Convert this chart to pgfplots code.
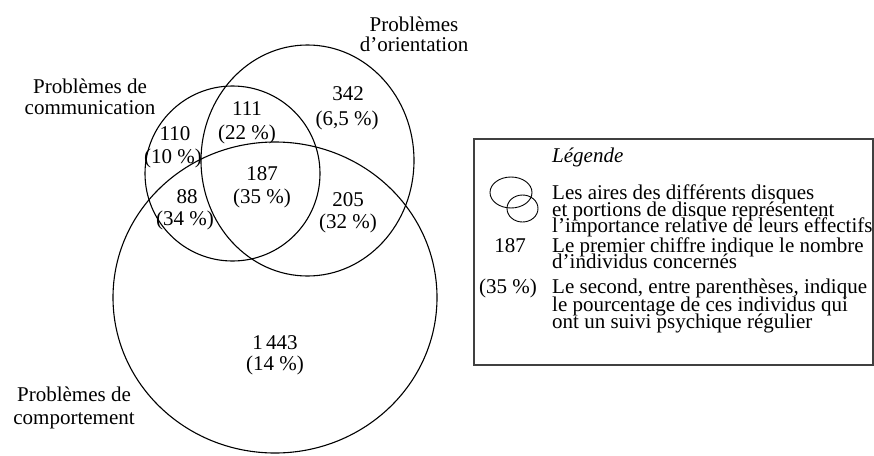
\documentclass[border=0pt]{standalone}
\usepackage{pgfplots}
\pgfplotsset{compat=1.18}
\usepackage{fontspec}
\setmainfont{Liberation Serif}
\begin{document}
\begin{tikzpicture}[font=\fontsize{21}{20}\selectfont]
\begin{axis}[width=874pt,height=455pt,scale only axis,
  xmin=0,xmax=874,ymin=0,ymax=455,y dir=reverse,hide axis,clip=false]
% Venn discs: centre x, centre y, x radius, y radius
\draw[line width=1.1pt] (axis cs:232.5,173.5) ellipse [x radius=87.5,y radius=87.5];
\draw[line width=1.1pt] (axis cs:307.5,160.5) ellipse [x radius=106.5,y radius=115.5];
\draw[line width=1.1pt] (axis cs:275,297.5) ellipse [x radius=162,y radius=155.5];
% labels
\node[anchor=base] at (axis cs:414,31.5) {Problèmes};
\node[anchor=base] at (axis cs:414,51) {d’orientation};
\node[anchor=base] at (axis cs:90,93) {Problèmes de};
\node[anchor=base] at (axis cs:90,114) {communication};
\node[anchor=base] at (axis cs:74,401) {Problèmes de};
\node[anchor=base] at (axis cs:74,424) {comportement};
% counts
\node[anchor=base] at (axis cs:348,100.5) {342};
\node[anchor=base] at (axis cs:347,125) {(6,5~\%)};
\node[anchor=base] at (axis cs:247,115) {111};
\node[anchor=base] at (axis cs:247,139) {(22~\%)};
\node[anchor=base] at (axis cs:175,140) {110};
\node[anchor=base] at (axis cs:173,163) {(10~\%)};
\node[anchor=base] at (axis cs:262,180) {187};
\node[anchor=base] at (axis cs:262,203) {(35~\%)};
\node[anchor=base] at (axis cs:187,203) {88};
\node[anchor=base] at (axis cs:185,225) {(34~\%)};
\node[anchor=base] at (axis cs:348,206) {205};
\node[anchor=base] at (axis cs:348,228) {(32~\%)};
\node[anchor=base] at (axis cs:275,349) {1\,443};
\node[anchor=base] at (axis cs:275,370) {(14~\%)};
% legend box
\draw[line width=1.2pt,black!75] (axis cs:474,139) rectangle (axis cs:873,365);
\draw[line width=0.9pt] (axis cs:511,192.5) ellipse [x radius=21,y radius=15.5];
\draw[line width=0.9pt] (axis cs:522.5,208.5) ellipse [x radius=15.5,y radius=13.5];
\node[anchor=base west,inner sep=0pt] at (axis cs:552,162) {\itshape Légende};
\node[anchor=base west,inner sep=0pt] at (axis cs:552,199) {Les aires des différents disques};
\node[anchor=base west,inner sep=0pt] at (axis cs:552,216) {et portions de disque représentent};
\node[anchor=base west,inner sep=0pt] at (axis cs:552,232.5) {l’importance relative de leurs effectifs};
\node[anchor=base,inner sep=0pt] at (axis cs:510,252) {187};
\node[anchor=base west,inner sep=0pt] at (axis cs:552,252) {Le premier chiffre indique le nombre};
\node[anchor=base west,inner sep=0pt] at (axis cs:552,268.5) {d’individus concernés};
\node[anchor=base,inner sep=0pt] at (axis cs:508,293) {(35~\%)};
\node[anchor=base west,inner sep=0pt] at (axis cs:552,293) {Le second, entre parenthèses, indique};
\node[anchor=base west,inner sep=0pt] at (axis cs:552,311) {le pourcentage de ces individus qui};
\node[anchor=base west,inner sep=0pt] at (axis cs:552,328) {ont un suivi psychique régulier};
\end{axis}
\pgfresetboundingbox
\path (current axis.south west) rectangle (current axis.north east);
\end{tikzpicture}
\end{document}
